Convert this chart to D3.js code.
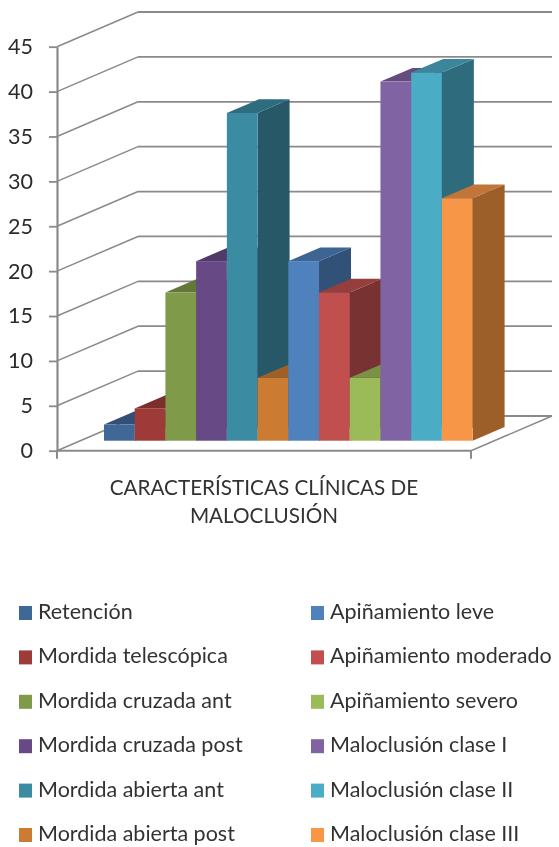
<!DOCTYPE html>
<html>
<head>
<meta charset="utf-8">
<script src="https://cdn.jsdelivr.net/npm/d3@7"></script>
<style>
  html, body { margin: 0; padding: 0; background: #fff; }
  svg { display: block; }
  text { font-family: Lato, "Open Sans", sans-serif; fill: #333; }
</style>
</head>
<body>
<svg id="root" width="559" height="847">
  <defs><filter id="soft" x="0" y="0" width="100%" height="100%"><feGaussianBlur stdDeviation="0.4"/></filter></defs>
  <g id="chart" filter="url(#soft)"><rect width="559" height="847" fill="#fff"></rect></g>
</svg>
<script>
// Chart data
var categories = ["Retención", "Mordida telescópica", "Mordida cruzada ant", "Mordida cruzada post",
    "Mordida abierta ant", "Mordida abierta post", "Apiñamiento leve", "Apiñamiento moderado",
    "Apiñamiento severo", "Maloclusión clase I", "Maloclusión clase II", "Maloclusión clase III"];
var values = [1.8, 3.6, 16.5, 20, 36.5, 7, 20, 16.5, 7, 40, 41, 27];
var yTicks = [0, 5, 10, 15, 20, 25, 30, 35, 40, 45];
var axisTitle = ["CARACTERÍSTICAS CLÍNICAS DE", "MALOCLUSIÓN"];
var colors = ["#3f6797", "#9e3b39", "#7f9a48", "#664a85", "#3a8ba3", "#cb7b32",
    "#4f81bd", "#c0504d", "#9bbb59", "#8064a2", "#4bacc6", "#f79646"];

var svg = d3.select("#chart");

// Wall depth and bar depth of the fake 3D
var wallDx = 81, wallDy = -34.7;
var barDx = 32, barDy = -13.7;
var barBase = 440.7;
var plotLeft = 57, plotRight = 471;

var yScale = d3.scaleLinear().domain([0, 45]).range([450.7, 46.7]);
var xScale = d3.scaleBand().domain(categories).range([104, 472.6]);

var gridColor = "#8a8a8a";

// Back wall lines and the slanted ones on the left wall
var grid = svg.append("g");
grid.selectAll(".back")
    .data(yTicks)
    .enter().append("line")
    .attr("class", "back")
    .attr("x1", plotLeft + wallDx)
    .attr("x2", plotRight + wallDx)
    .attr("y1", function(d) { return yScale(d) + wallDy; })
    .attr("y2", function(d) { return yScale(d) + wallDy; })
    .attr("stroke", gridColor)
    .attr("stroke-width", 1.8);
grid.selectAll(".side")
    .data(yTicks)
    .enter().append("line")
    .attr("class", "side")
    .attr("x1", plotLeft)
    .attr("x2", plotLeft + wallDx)
    .attr("y1", function(d) { return yScale(d); })
    .attr("y2", function(d) { return yScale(d) + wallDy; })
    .attr("stroke", gridColor)
    .attr("stroke-width", 1.5);

// Floor edges
grid.append("line")
    .attr("x1", plotLeft).attr("x2", plotRight)
    .attr("y1", yScale(0)).attr("y2", yScale(0))
    .attr("stroke", gridColor).attr("stroke-width", 2);
grid.append("line")
    .attr("x1", plotRight).attr("x2", plotRight + wallDx)
    .attr("y1", yScale(0)).attr("y2", yScale(0) + wallDy)
    .attr("stroke", gridColor).attr("stroke-width", 1.5);
grid.append("line")
    .attr("x1", plotRight).attr("x2", plotRight)
    .attr("y1", yScale(0)).attr("y2", yScale(0) + 8)
    .attr("stroke", gridColor).attr("stroke-width", 2);
grid.append("line")
    .attr("x1", plotLeft).attr("x2", plotLeft)
    .attr("y1", yScale(0)).attr("y2", yScale(0) + 8)
    .attr("stroke", gridColor).attr("stroke-width", 2);

// Y axis
var yAxis = svg.append("g")
    .attr("transform", "translate(" + plotLeft + ",0)")
    .call(d3.axisLeft(yScale).tickValues(yTicks).tickSize(8).tickPadding(16).tickSizeOuter(0));
yAxis.select(".domain").attr("stroke", gridColor).attr("stroke-width", 2.2);
yAxis.selectAll(".tick line").attr("stroke", gridColor).attr("stroke-width", 1.8);
yAxis.selectAll("text")
    .style("font-family", "Lato, sans-serif")
    .style("font-size", "21.5px")
    .style("fill", "#2c2c2c");

// Bars, painted left to right so each front hides the neighbour's side
function shade(c, k) {
    var r = d3.rgb(c);
    return d3.rgb(r.r * k, r.g * k, r.b * k).formatHex();
}
var rows = categories.map(function(c, i) { return { name: c, value: values[i], color: colors[i] }; });
var barH = function(v) { return yScale(0) - yScale(v); };
var bars = svg.selectAll(".bar")
    .data(rows)
    .enter().append("g")
    .attr("class", "bar");

// side face
bars.append("path")
    .attr("d", function(d) {
        var x = xScale(d.name) + xScale.bandwidth(), top = barBase - barH(d.value);
        return "M" + x + "," + top + "L" + (x + barDx) + "," + (top + barDy) +
            "L" + (x + barDx) + "," + (barBase + barDy) + "L" + x + "," + barBase + "Z";
    })
    .attr("fill", function(d) { return shade(d.color, 0.63); });
// top face
bars.append("path")
    .attr("d", function(d) {
        var x = xScale(d.name), w = xScale.bandwidth(), top = barBase - barH(d.value);
        return "M" + x + "," + top + "L" + (x + barDx) + "," + (top + barDy) +
            "L" + (x + w + barDx) + "," + (top + barDy) + "L" + (x + w) + "," + top + "Z";
    })
    .attr("fill", function(d) { return shade(d.color, 0.78); });
// front face
bars.append("rect")
    .attr("x", function(d) { return xScale(d.name); })
    .attr("y", function(d) { return barBase - barH(d.value); })
    .attr("width", xScale.bandwidth())
    .attr("height", function(d) { return barH(d.value); })
    .attr("fill", function(d) { return d.color; });

// Category axis title
svg.selectAll(".axis-title")
    .data(axisTitle)
    .enter().append("text")
    .attr("class", "axis-title")
    .attr("x", 264)
    .attr("y", function(d, i) { return 495 + i * 28; })
    .attr("text-anchor", "middle")
    .style("font-size", "20.7px")
    .text(function(d) { return d; });

// Legend, two columns of six
var legendRow = d3.scaleLinear().domain([0, 5]).range([613, 835]);
var legend = svg.selectAll(".legend")
    .data(rows)
    .enter().append("g")
    .attr("class", "legend")
    .attr("transform", function(d, i) {
        var col = i < 6 ? 0 : 1;
        return "translate(" + (col ? 311 : 19) + "," + legendRow(i % 6) + ")";
    });
legend.append("rect")
    .attr("y", -7)
    .attr("width", 13)
    .attr("height", 14)
    .attr("fill", function(d) { return d.color; });
legend.append("text")
    .attr("x", 19)
    .attr("y", 6)
    .style("font-size", "21.5px")
    .text(function(d) { return d.name; });
</script>
</body>
</html>
